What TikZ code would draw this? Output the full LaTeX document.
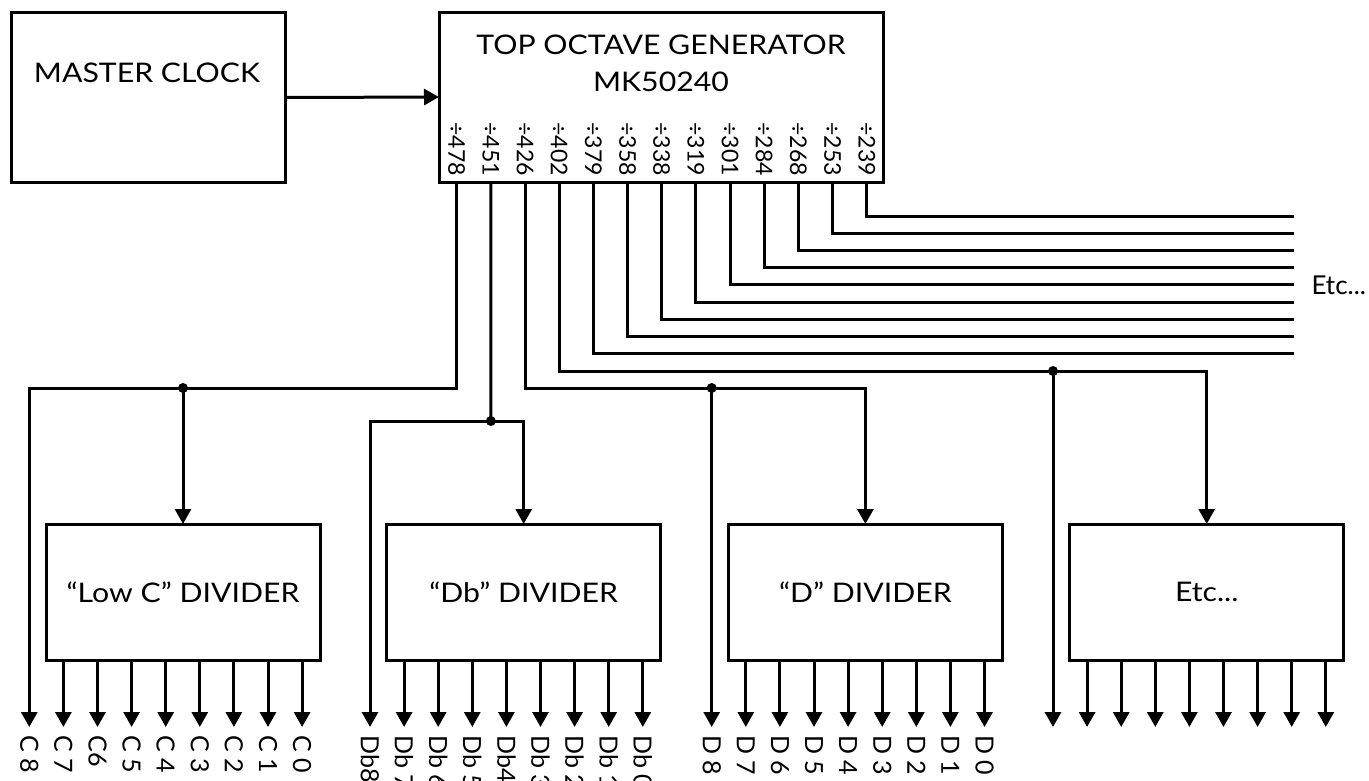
\documentclass[tikz,border=0pt]{standalone}
\usepackage{fontspec}
\setmainfont{Lato}
\newfontfamily\widefont[FakeStretch=1.12]{Lato}
\usetikzlibrary{arrows.meta,positioning}

\begin{document}
\begin{tikzpicture}[x=1pt, y=-1pt, line width=3pt,
    >={Triangle[length=15pt,width=16pt]},
    box/.style={draw, rectangle, inner sep=0pt, outer sep=0pt, font=\widefont\fontsize{27}{37}\selectfont},
    boxtext/.style={inner sep=0pt, font=\widefont\fontsize{27}{37}\selectfont},
    pinlabel/.style={rotate=-90, anchor=west, inner sep=0pt, font=\fontsize{23}{26}\selectfont},
    outlabel/.style={rotate=-90, anchor=west, inner sep=0pt, font=\fontsize{25}{28}\selectfont},
    junction/.style={circle, fill, inner sep=0pt, minimum size=10pt}]
    \useasboundingbox (0,0) rectangle (1369,780);

    % clock and top octave generator
    \node[box, minimum width=274, minimum height=170] (clock) at (148.7,97.5) {};
    \node[boxtext] (clocktxt) at (147,73) {MASTER CLOCK};
    \node[box, minimum width=444, minimum height=170] (tog) at (661,97) {};
    \node[boxtext, align=center] (togtxt) at (661,63) {TOP OCTAVE GENERATOR\\MK50240};
    \draw[->] (clock.east) -- (tog.west);

    \foreach \n [count=\i from 0] in {478,451,426,402,379,358,338,319,301,284,268,253,239} {
        \coordinate (p\i) at (456.7+34.17*\i,182);
        \node[pinlabel] (pl\i) at (456.7+34.17*\i,121) {÷\n};
    }

    % lines running off to the right
    \foreach \i in {4,...,12} {
        \coordinate (r\i) at (1294,216+17.22*12-17.22*\i);
        \draw (p\i) |- (r\i);
    }
    \node[inner sep=0pt, anchor=west, font=\fontsize{26}{30}\selectfont] (etcright) at (1310,285) {Etc...};

    % dividers
    \node[box, minimum width=274, minimum height=136] (lowc) at (183,592) {“Low C” DIVIDER};
    \node[box, minimum width=274, minimum height=136] (dbdiv) at (523.7,592) {“Db” DIVIDER};
    \node[box, minimum width=274, minimum height=136] (ddiv) at (865.4,592) {“D” DIVIDER};
    \node[box, minimum width=274, minimum height=136] (etcdiv) at (1206.7,592) {Etc...};

    \foreach \g/\nm in {29.3/lowc,370/dbdiv,711.7/ddiv,1053/etcdiv} {
        \foreach \k in {0,...,8}
            \coordinate (\nm o\k) at (\g+34.1*\k,727);
        \foreach \k in {1,...,8}
            \draw[->] (\nm o\k |- \nm.south) -- (\nm o\k);
    }

    % branches to the dividers
    \node[junction] (jlow) at (183,388) {};
    \node[junction] (jdb) at (490.9,421) {};
    \node[junction] (jd) at (711.7,388) {};
    \node[junction] (je) at (1053,371) {};

    \draw[->] (p0) |- (lowco0 |- jlow) -- (lowco0);
    \draw[->] (jlow.center) -- (lowc.north);

    \draw (p1) -- (jdb.center);
    \draw[->] (jdb.center) -| (dbdivo0);
    \draw[->] (jdb.center) -| (dbdiv.north);

    \draw (p2) |- (jd.center);
    \draw[->] (jd.center) -| (ddiv.north);
    \draw[->] (jd.center) -- (ddivo0);

    \draw (p3) |- (je.center);
    \draw[->] (je.center) -| (etcdiv.north);
    \draw[->] (je.center) -- (etcdivo0);

    % output names
    \foreach \t [count=\j from 0] in {C 8,C 7,C6,C 5,C 4,C 3,C 2,C 1,C 0}
        \node[outlabel] (lowct\j) at (29.3+34.1*\j,734) {\t};
    \foreach \t [count=\j from 0] in {Db8,Db 7,Db 6,Db 5,Db4,Db 3,Db 2,Db 1,Db 0}
        \node[outlabel] (dbdivt\j) at (370+34.1*\j,734) {\t};
    \foreach \t [count=\j from 0] in {D 8,D 7,D 6,D 5,D 4,D 3,D 2,D 1,D 0}
        \node[outlabel] (ddivt\j) at (711.7+34.1*\j,734) {\t};
\end{tikzpicture}
\end{document}
